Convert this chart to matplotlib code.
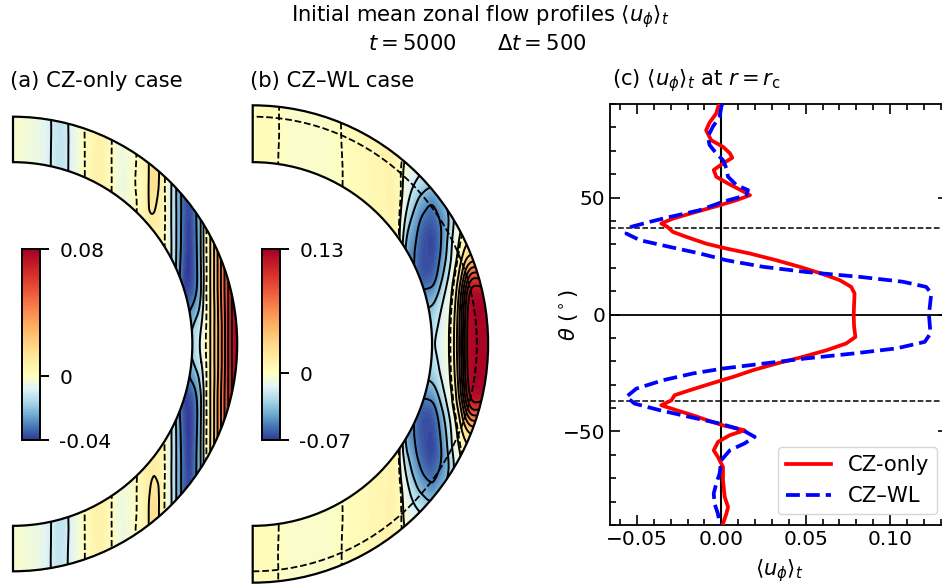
import numpy as np
import matplotlib
matplotlib.use("Agg")
import matplotlib.pyplot as plt
import matplotlib.tri as mtri
from matplotlib.colors import TwoSlopeNorm
from matplotlib.patches import Wedge, Arc
from matplotlib.ticker import MultipleLocator

plt.rcParams['font.family'] = ['DejaVu Sans']
plt.rcParams['mathtext.fontset'] = 'dejavusans'
FS = 14.5      # tick labels
FT = 15.2      # titles, axis labels, legend

#### panel (c): <u_phi>_t at r = r_c ####
theta_cz = [90, 86, 82, 78.8, 74.5, 71.7, 69, 67, 64.6, 61.8,
            58.9, 56, 53, 51, 48.9, 46.7, 43.9, 41, 38.9, 37.5,
            35.3, 33.2, 30.3, 28.2, 26.1, 23.2, 20.4, 17.5, 14.7, 11.8,
            9, 4, 0, -5, -9.6, -12.4, -15.3, -18.1, -21, -23.8,
            -26.7, -29.5, -32.4, -34.5, -36.7, -38.8, -40.9, -43.1, -45.3, -47.4,
            -49.5, -51.6, -54.5, -58.1, -60.9, -65.2, -70.9, -78, -82.3, -85.2,
            -89.4, -90]
u_cz = [-0.0014, -0.003, -0.007, -0.009, -0.006, 0.001, 0.005, 0.0065, 0.001, -0.0045,
        -0.003, 0.004, 0.012, 0.017, 0.009, -0.001, -0.0148, -0.0287, -0.0356, -0.032,
        -0.0287, -0.0208, -0.009, 0.003, 0.0168, 0.0326, 0.0464, 0.0593, 0.0702, 0.077,
        0.079, 0.0787, 0.0785, 0.0787, 0.0795, 0.074, 0.0623, 0.0484, 0.0326, 0.0188,
        0.0069, -0.006, -0.0188, -0.0277, -0.0296, -0.0356, -0.0267, -0.0168, -0.008, 0.001,
        0.0138, 0.005, -0.002, -0.0045, -0.002, 0.001, 0.001, 0.002, 0.004, 0.003,
        0.001, 0.001]

theta_wl = [90, 88.8, 84.6, 80.3, 76, 72.5, 68.9, 66, 62.5, 58.9,
            55.3, 53.2, 51, 48.2, 44.6, 41.7, 39.6, 37.5, 34.6, 31.8,
            28.9, 26.1, 23.2, 20.4, 18.2, 16.1, 14, 11.8, 9, 0,
            -8.1, -11.7, -14.5, -16.7, -18.8, -21, -23.1, -25.2, -28.1, -31.7,
            -35.2, -38.1, -40.9, -43.8, -46.6, -49.5, -52.3, -55.1, -58.1, -62.3,
            -68, -72.3, -76.5, -80.9, -85.2, -89.4, -90]
u_wl = [0.0005, 0.0, -0.001, -0.005, -0.008, -0.007, -0.003, 0.001, 0.003, 0.004,
        0.009, 0.0158, 0.0148, 0.001, -0.0128, -0.0306, -0.0425, -0.0534, -0.0563, -0.0484,
        -0.0306, -0.0128, 0.003, 0.0247, 0.050, 0.082, 0.1077, 0.1215, 0.1245, 0.1231,
        0.124, 0.1206, 0.1038, 0.078, 0.050, 0.0247, 0.001, -0.0168, -0.0346, -0.0504,
        -0.0563, -0.0514, -0.0366, -0.0188, -0.001, 0.0128, 0.0198, 0.0138, 0.005, 0.0,
        -0.001, -0.003, -0.0045, -0.004, -0.002, -0.001, -0.001]

tc_lat = [36.87, -36.87]   # tangent cylinder latitude

#### panels (a),(b): <u_phi>_t tabulated on (s, z), northern half ####
r_i, r_c, r_wl = 0.8, 1.0, 1.05

s_a = [0.00, 0.08, 0.15, 0.19, 0.23, 0.28, 0.32, 0.36, 0.40, 0.44, 0.48, 0.52, 0.56, 0.60, 0.63, 0.66,
       0.69, 0.72, 0.75, 0.78, 0.80, 0.82, 0.84, 0.86, 0.88, 0.90, 0.92, 0.94, 0.96, 0.98, 1.00, 1.06]
z_a = [0.00, 0.08, 0.16, 0.25, 0.40, 0.55, 0.70, 0.85, 1.06]
hi_a = [-0.002, -0.004, -0.008, -0.012, -0.012, -0.005, 0.000, 0.005, 0.006, 0.000, -0.004, -0.003, 0.001]
u_a = [
    hi_a + [0.007, 0.008, 0.004, -0.004, -0.016, -0.024, -0.022, -0.017, -0.013, -0.008, 0.000, 0.010, 0.021, 0.033, 0.046, 0.060, 0.072, 0.080, 0.082],
    hi_a + [0.007, 0.008, 0.004, -0.004, -0.016, -0.028, -0.026, -0.021, -0.016, -0.010, -0.001, 0.010, 0.021, 0.033, 0.046, 0.060, 0.072, 0.080, 0.082],
    hi_a + [0.007, 0.008, 0.004, -0.004, -0.016, -0.032, -0.033, -0.029, -0.024, -0.015, -0.002, 0.010, 0.021, 0.034, 0.047, 0.060, 0.072, 0.080, 0.082],
    hi_a + [0.007, 0.008, 0.004, -0.004, -0.016, -0.034, -0.038, -0.036, -0.030, -0.019, -0.002, 0.010, 0.022, 0.035, 0.048, 0.060, 0.072, 0.080, 0.082],
    hi_a + [0.007, 0.008, 0.004, -0.004, -0.016, -0.031, -0.039, -0.037, -0.030, -0.018, -0.002, 0.010, 0.022, 0.035, 0.048, 0.060, 0.072, 0.080, 0.082],
    hi_a + [0.008, 0.009, 0.005, -0.004, -0.016, -0.030, -0.038, -0.036, -0.029, -0.018, -0.002, 0.010, 0.022, 0.035, 0.048, 0.060, 0.072, 0.080, 0.082],
    hi_a + [0.008, 0.015, 0.006, -0.004, -0.016, -0.030, -0.036, -0.034, -0.029, -0.018, -0.002, 0.010, 0.022, 0.035, 0.048, 0.060, 0.072, 0.080, 0.082],
    hi_a + [0.008, 0.015, 0.006, -0.004, -0.016, -0.030, -0.036, -0.034, -0.029, -0.018, -0.002, 0.010, 0.022, 0.035, 0.048, 0.060, 0.072, 0.080, 0.082],
    hi_a + [0.008, 0.015, 0.006, -0.004, -0.016, -0.030, -0.036, -0.034, -0.029, -0.018, -0.002, 0.010, 0.022, 0.035, 0.048, 0.060, 0.072, 0.080, 0.082],
]

s_b = [0.00, 0.08, 0.15, 0.22, 0.28, 0.34, 0.40, 0.46, 0.52, 0.57, 0.61, 0.65,
       0.68, 0.71, 0.74, 0.77, 0.80, 0.83, 0.86, 0.88, 0.90, 0.92, 0.94, 0.96, 0.98, 1.00, 1.02, 1.05, 1.10]
z_b = [0.00, 0.10, 0.20, 0.28, 0.36, 0.45, 0.55, 0.65, 0.80, 1.10]
hi_b = [0.001, 0.002, -0.002, -0.0025, -0.0025, -0.002, 0.000, 0.003, 0.005, 0.007]
u_b = [
    hi_b + [0.007, 0.002, -0.028, -0.028, -0.028, -0.026, -0.022, -0.016, -0.008, -0.001, 0.016, 0.045, 0.085, 0.117, 0.126, 0.128, 0.128, 0.126, 0.122],
    hi_b + [0.007, 0.002, -0.032, -0.032, -0.032, -0.031, -0.028, -0.020, -0.010, -0.002, 0.014, 0.042, 0.082, 0.116, 0.126, 0.128, 0.128, 0.126, 0.122],
    hi_b + [0.007, 0.002, -0.040, -0.042, -0.044, -0.045, -0.042, -0.031, -0.016, -0.006, 0.008, 0.034, 0.072, 0.108, 0.124, 0.126, 0.126, 0.122, 0.118],
    hi_b + [0.007, 0.002, -0.045, -0.050, -0.056, -0.060, -0.058, -0.045, -0.026, -0.013, 0.001, 0.020, 0.050, 0.082, 0.100, 0.102, 0.100, 0.095, 0.090],
    hi_b + [0.007, 0.002, -0.040, -0.052, -0.060, -0.064, -0.064, -0.054, -0.036, -0.022, -0.008, 0.006, 0.024, 0.040, 0.048, 0.048, 0.046, 0.042, 0.038],
    hi_b + [0.007, 0.002, -0.032, -0.048, -0.058, -0.064, -0.066, -0.058, -0.042, -0.027, -0.013, -0.003, 0.006, 0.012, 0.012, 0.010, 0.008, 0.006, 0.005],
    hi_b + [0.008, 0.002, -0.020, -0.038, -0.050, -0.058, -0.060, -0.054, -0.044, -0.032, -0.018, -0.008, -0.002, 0.002, 0.002, 0.002, 0.002, 0.002, 0.002],
    hi_b + [0.009, 0.004, -0.010, -0.024, -0.035, -0.042, -0.046, -0.040, -0.031, -0.022, -0.012, -0.005, -0.002, 0.000, 0.000, 0.000, 0.000, 0.000, 0.000],
    hi_b + [0.009, 0.004, -0.004, -0.008, -0.012, -0.015, -0.015, -0.012, -0.008, -0.005, -0.003, -0.001, 0.000, 0.000, 0.000, 0.000, 0.000, 0.000, 0.000],
    hi_b + [0.009, 0.004, -0.004, -0.008, -0.012, -0.015, -0.015, -0.012, -0.008, -0.005, -0.003, -0.001, 0.000, 0.000, 0.000, 0.000, 0.000, 0.000, 0.000],
]

W, H = 942, 588
fig = plt.figure(figsize=(W / 100, H / 100), dpi=100)


def px_axes(x0, y0, x1, y1):
    # rectangle in image pixels, y measured from the top
    return fig.add_axes([x0 / W, 1 - y1 / H, (x1 - x0) / W, (y1 - y0) / H])


SX, SY = 224.2, 227.3   # pixels per unit radius


def shell_panel(cx, cy, s, z, rows, r_out, vmin, vmax, cz_line=False):
    xl, yl = (-0.06, 1.12), (-1.12, 1.12)
    ax = px_axes(cx + xl[0] * SX, cy - yl[1] * SY, cx + xl[1] * SX, cy - yl[0] * SY)
    ax.set_xlim(*xl)
    ax.set_ylim(*yl)
    ax.axis('off')

    s = np.asarray(s)
    z = np.asarray(z)
    u = np.asarray(rows)
    zz = np.concatenate([-z[:0:-1], z])
    uu = np.vstack([u[:0:-1], u])
    S, Z = np.meshgrid(s, zz)
    ny, nx = uu.shape
    k = np.arange(ny * nx).reshape(ny, nx)
    a, b, c, d = k[:-1, :-1].ravel(), k[:-1, 1:].ravel(), k[1:, 1:].ravel(), k[1:, :-1].ravel()
    tris = np.concatenate([np.stack([a, b, c], 1), np.stack([a, c, d], 1)])
    tri = mtri.Triangulation(S.ravel(), Z.ravel(), tris)
    tri_f, u_f = mtri.UniformTriRefiner(tri).refine_field(uu.ravel(), subdiv=3)

    norm = TwoSlopeNorm(vcenter=0, vmin=vmin, vmax=vmax)
    clip = Wedge((0, 0), r_out, -90, 90, width=r_out - r_i, transform=ax.transData)
    fill = ax.tricontourf(tri_f, u_f, levels=np.linspace(vmin, vmax, 121),
                          cmap='RdYlBu_r', norm=norm, extend='both')
    lv = np.linspace(vmin, vmax, 13)
    lines = ax.tricontour(tri_f, u_f, levels=lv[np.abs(lv) > 1e-9], colors='k',
                          linewidths=1.4, linestyles='solid')
    zero = ax.tricontour(tri_f, u_f, levels=[0.0], colors='k',
                         linewidths=1.3, linestyles='dashed')
    for cs in (fill, lines, zero):
        cs.set_clip_path(clip)
    if cz_line:
        ax.add_patch(Arc((0, 0), 2 * r_c, 2 * r_c, theta1=-90, theta2=90,
                         color='k', lw=1.3, ls='--', zorder=4))
    ax.add_patch(Wedge((0, 0), r_out, -90, 90, width=r_out - r_i,
                       fc='none', ec='k', lw=1.6, zorder=5))
    return norm


def colorbar(x0, norm, labels):
    cax = px_axes(x0, 249, x0 + 18, 440)
    vals = np.linspace(norm.vmin, norm.vmax, 257)
    mid = 0.5 * (vals[:-1] + vals[1:])
    cax.pcolormesh([0, 1], vals, mid[:, None], cmap='RdYlBu_r', norm=norm)
    cax.set_xlim(0, 1)
    cax.set_ylim(norm.vmin, norm.vmax)
    cax.set_xticks([])
    cax.yaxis.tick_right()
    cax.set_yticks([norm.vmin, 0, norm.vmax])
    cax.set_yticklabels(labels)
    cax.tick_params(axis='y', direction='out', length=6.3, width=1.4, pad=7.5, labelsize=FS)
    for sp in cax.spines.values():
        sp.set_linewidth(1.4)


norm_a = shell_panel(13, 344, s_a, z_a, u_a, r_c, -0.04, 0.08)
colorbar(22, norm_a, ['-0.04', '0', '0.08'])
norm_b = shell_panel(252.7, 344, s_b, z_b, u_b, r_wl, -0.07, 0.13, cz_line=True)
colorbar(262, norm_b, ['-0.07', '0', '0.13'])

#### panel (c) ####
ax = px_axes(610, 104, 948, 525)
ax.axvline(0, color='k', lw=1.5, zorder=1)
ax.axhline(0, color='k', lw=1.3, zorder=1)
for lat in tc_lat:
    ax.axhline(lat, color='k', lw=1.1, ls='--', zorder=1)
ax.plot(u_cz, theta_cz, color='red', lw=2.7, label='CZ-only', zorder=3)
ax.plot(u_wl, theta_wl, color='blue', lw=2.7, ls='--', label='CZ–WL', zorder=3)
ax.set_xlim(-0.066, 0.1344)
ax.set_ylim(-90, 90)
ax.set_yticks([-50, 0, 50])
ax.xaxis.set_major_locator(MultipleLocator(0.05))
ax.xaxis.set_minor_locator(MultipleLocator(0.01))
ax.yaxis.set_minor_locator(MultipleLocator(10))
ax.tick_params(which='both', direction='in', top=True, right=True, labelsize=FS, width=1.2)
ax.tick_params(which='major', length=7.5)
ax.tick_params(which='minor', length=4.5)
for sp in ax.spines.values():
    sp.set_linewidth(1.3)
ax.set_xlabel(r'$\langle u_\phi \rangle_t$', fontsize=FT, labelpad=6)
ax.set_ylabel(r'$\theta$ ($^\circ$)', fontsize=FT)
ax.yaxis.set_label_coords(-0.089, 0.5)
ax.legend(loc='lower right', fontsize=FT, handlelength=2.1)

#### titles ####
fig.text(480 / W, 1 - 17 / H, r'Initial mean zonal flow profiles $\langle u_\phi \rangle_t$',
         ha='center', va='center', fontsize=FT)
fig.text(477 / W, 1 - 44 / H, r'$t = 5000 \quad\quad \Delta t = 500$',
         ha='center', va='center', fontsize=FT)
fig.text(10 / W, 1 - 81 / H, '(a) CZ-only case', ha='left', va='center', fontsize=FT)
fig.text(250 / W, 1 - 81 / H, '(b) CZ–WL case', ha='left', va='center', fontsize=FT)
fig.text(612 / W, 1 - 81 / H, r'(c) $\langle u_\phi \rangle_t$ at $r = r_{\rm c}$',
         ha='left', va='center', fontsize=FT)

fig.savefig('out.png', dpi=100)
